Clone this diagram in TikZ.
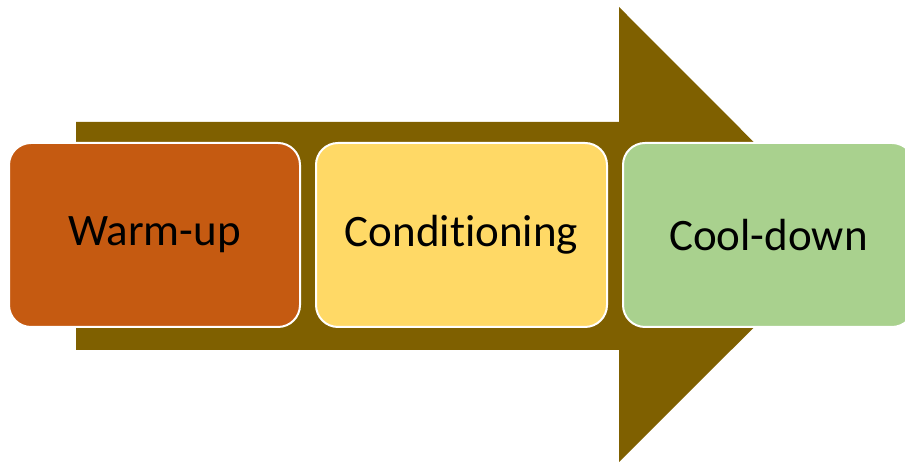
\documentclass[tikz,border=0pt]{standalone}
\usepackage{fontspec}
\setmainfont{Carlito}[Ligatures=NoCommon]
\definecolor{arrowgold}{HTML}{7F6000}
\definecolor{warmcol}{HTML}{C55A11}
\definecolor{condcol}{HTML}{FFD966}
\definecolor{coolcol}{HTML}{A9D18E}
\begin{document}
\begin{tikzpicture}
        [x=1pt, y=1pt,
        stage/.style={rectangle, rounded corners=22pt, draw=white, line width=2pt,
            minimum width=291pt, minimum height=184pt, inner sep=0pt,
            font=\fontsize{45}{50}\selectfont, text=black},
        bigarrow/.style={fill=arrowgold}]

        \useasboundingbox (0,0) rectangle (905,462);

        % Big arrow in the background
        \fill[bigarrow] (76,112) -- (76,340) -- (619,340) -- (619,455)
            -- (846.5,227) -- (619,0) -- (619,112) -- cycle;

        % The three stages
        \node[stage, fill=warmcol] (warm) at (154.5,227) {Warm-up};
        \node[stage, fill=condcol] (cond) at (461.5,227) {Conditioning};
        \node[stage, fill=coolcol] (cool) at (768.5,227) {Cool-down};

    \end{tikzpicture}
\end{document}
